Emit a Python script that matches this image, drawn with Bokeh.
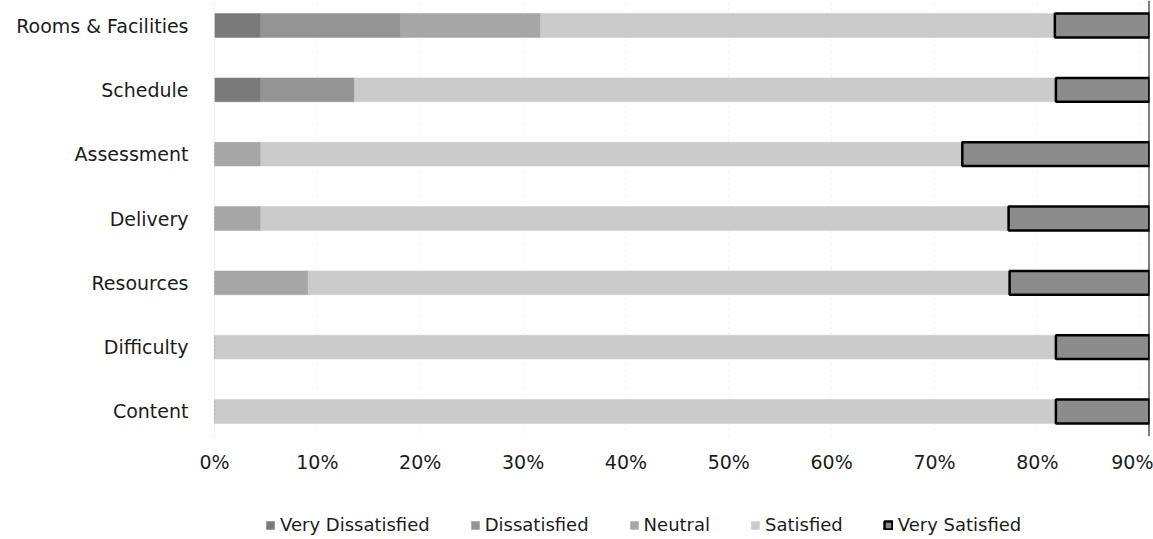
from bokeh.plotting import figure
from bokeh.layouts import column
from bokeh.models import (ColumnDataSource, Range1d, FixedTicker,
                          PrintfTickFormatter, Span, Legend)
from bokeh.embed import file_html
from bokeh.resources import INLINE

# Course evaluation topics, bottom to top
topics = ["Content", "Difficulty", "Resources", "Delivery",
          "Assessment", "Schedule", "Rooms & Facilities"]

# Share of responses (%) per rating level
very_dissatisfied = [0.0, 0.0, 0.0, 0.0, 0.0, 4.5, 4.5]
dissatisfied      = [0.0, 0.0, 0.0, 0.0, 0.0, 9.1, 13.6]
neutral           = [0.0, 0.0, 9.1, 4.5, 4.5, 0.0, 13.6]
satisfied         = [81.8, 81.8, 68.2, 72.7, 68.2, 68.2, 50.0]
very_satisfied    = [18.2, 18.2, 22.7, 22.7, 27.3, 18.2, 18.2]

levels = ["Very Dissatisfied", "Dissatisfied", "Neutral", "Satisfied", "Very Satisfied"]
x_ticks = [0, 10, 20, 30, 40, 50, 60, 70, 80, 90]

rows = list(range(len(topics)))

source = ColumnDataSource(data={
    "row": rows,
    "topic": topics,
    "Very Dissatisfied": very_dissatisfied,
    "Dissatisfied": dissatisfied,
    "Neutral": neutral,
    "Satisfied": satisfied,
    "Very Satisfied": very_satisfied,
})

fills = ["#7a7a7a", "#949494", "#a6a6a6", "#cbcbcb", "#8c8c8c"]
outlines = ["#7a7a7a", "#949494", "#a6a6a6", "#cbcbcb", "#000000"]
outline_widths = [0.5, 0.5, 0.5, 0.5, 2.5]

FONT = "DejaVu Sans"
TEXT = "#1c1c1c"
W = 1153

p = figure(
    width=W, height=489,
    y_range=Range1d(-0.389, 6.389),
    x_range=Range1d(0, 90.9),
    output_backend="svg", toolbar_location=None,
    min_border_left=214, min_border_right=4,
    min_border_top=0, min_border_bottom=53,
)

renderers = p.hbar_stack(
    levels, y="row", height=0.37, source=source,
    fill_color=fills, line_color=outlines, line_width=outline_widths,
)

# x axis
p.xaxis.ticker = FixedTicker(ticks=x_ticks)
p.xaxis.formatter = PrintfTickFormatter(format="%d%%")
p.xaxis.axis_line_color = None
p.xaxis.major_tick_line_color = None
p.xaxis.minor_tick_line_color = None
p.xaxis.major_label_standoff = 8
p.xaxis.major_label_text_font = FONT
p.xaxis.major_label_text_font_size = "19px"
p.xaxis.major_label_text_color = TEXT

# y axis with topic names on each row
p.yaxis.ticker = FixedTicker(ticks=rows)
p.yaxis.major_label_overrides = {i: t for i, t in zip(rows, topics)}
p.yaxis.axis_line_color = "#cfcfcf"
p.yaxis.axis_line_dash = "1 3"
p.yaxis.major_tick_line_color = None
p.yaxis.minor_tick_line_color = None
p.yaxis.major_label_standoff = 20
p.yaxis.major_label_text_font = FONT
p.yaxis.major_label_text_font_size = "19px"
p.yaxis.major_label_text_color = TEXT

# faint dotted vertical gridlines
p.xgrid.grid_line_color = "#e2e2e2"
p.xgrid.grid_line_dash = "1 5"
p.ygrid.grid_line_color = None
p.outline_line_color = None

# right border line
p.add_layout(Span(location=90.9, dimension="height",
                  line_color="#000000", line_width=2))

# legend strip under the chart; its frame lines up with the chart frame
lp = figure(
    width=W, height=50,
    x_range=Range1d(0, 1), y_range=Range1d(0, 1),
    output_backend="svg", toolbar_location=None, min_border=0,
)
lp.axis.visible = False
lp.grid.grid_line_color = None
lp.outline_line_color = None

# legend keys: one undrawn bar (NaN position) per style
nan = float("nan")
keys = []
for fill, line, lw in zip(fills, outlines, outline_widths):
    keys.append(lp.hbar(y=[nan], left=[nan], right=[nan], height=0.5,
                        fill_color=fill, line_color=line, line_width=lw))

legend = Legend(
    items=[(name, [r]) for name, r in zip(levels, keys)],
    orientation="horizontal", location=(51, 4),
    label_text_font=FONT, label_text_font_size="18px",
    label_text_color=TEXT,
    glyph_width=10, glyph_height=10, label_standoff=5, spacing=40,
    padding=5, margin=0, border_line_color=None, background_fill_alpha=0,
)
lp.add_layout(legend)

layout = column(p, lp, spacing=0)

open("out.html", "w").write(file_html(layout, INLINE))
